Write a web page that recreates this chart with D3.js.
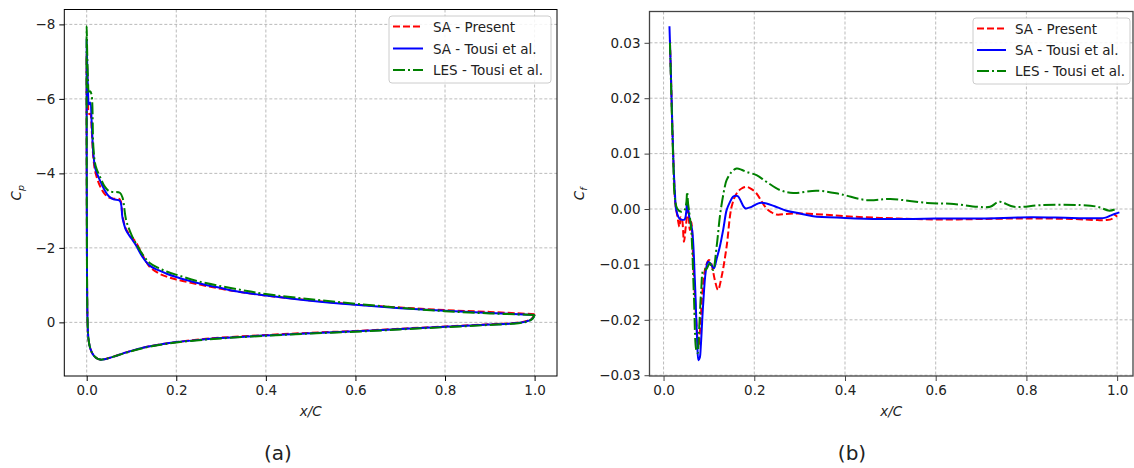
<!DOCTYPE html>
<html><head><meta charset="utf-8">
<script src="https://cdn.jsdelivr.net/npm/d3@7"></script>
<style>
body{margin:0;background:#fff;}
svg{display:block;}
text{font-family:"DejaVu Sans",sans-serif;fill:#222;}
</style>
</head><body>
<svg id="c" width="1134" height="468"></svg>
<script>
// ---------------- DATA ----------------
const seriesNames = ["SA - Present", "SA - Tousi et al.", "LES - Tousi et al."];
const xTicks = [0, 0.2, 0.4, 0.6, 0.8, 1.0];
const cpTicks = [-8, -6, -4, -2, 0];
const cfTicks = [-0.03, -0.02, -0.01, 0.0, 0.01, 0.02, 0.03];

// Cp, upper (suction) surface, trailing edge -> leading edge
const cpUpperX = [1.0, 0.9, 0.8, 0.7, 0.6, 0.5, 0.4, 0.35, 0.3, 0.25, 0.2, 0.18, 0.16, 0.14, 0.125, 0.11, 0.1, 0.088, 0.08, 0.074, 0.06, 0.05, 0.04, 0.03, 0.02, 0.015, 0.011, 0.008, 0.005, 0.003, 0.001, 0.0];
const cpUpperSAPresent = [-0.22, -0.28, -0.33, -0.40, -0.48, -0.59, -0.72, -0.80, -0.90, -1.02, -1.15, -1.22, -1.32, -1.50, -1.80, -2.15, -2.30, -2.50, -2.85, -3.30, -3.32, -3.35, -3.45, -3.65, -4.00, -4.40, -5.20, -5.60, -5.60, -6.00, -6.80, -7.20];
const cpUpperSATousi = [-0.20, -0.25, -0.31, -0.38, -0.47, -0.58, -0.72, -0.80, -0.92, -1.05, -1.22, -1.30, -1.40, -1.53, -1.75, -2.07, -2.25, -2.47, -2.80, -3.26, -3.30, -3.38, -3.55, -3.80, -4.10, -4.50, -5.40, -5.90, -5.85, -6.20, -7.00, -7.60];
const cpUpperLES = [-0.20, -0.24, -0.30, -0.39, -0.50, -0.62, -0.76, -0.86, -0.97, -1.10, -1.28, -1.36, -1.46, -1.60, -1.82, -2.12, -2.35, -2.75, -3.35, -3.48, -3.50, -3.52, -3.65, -3.90, -4.20, -4.70, -6.10, -6.20, -6.20, -6.50, -7.30, -7.95];

// Cp, lower (pressure) surface, leading edge -> trailing edge
const cpLowerX = [0.0005, 0.001, 0.002, 0.004, 0.008, 0.015, 0.022, 0.03, 0.04, 0.06, 0.09, 0.13, 0.17, 0.2, 0.25, 0.3, 0.4, 0.5, 0.6, 0.7, 0.8, 0.9, 0.95, 0.98, 0.995, 1.0];
const cpLowerSAPresent = [-2.0, -0.8, 0.0, 0.45, 0.70, 0.88, 0.96, 1.00, 0.99, 0.92, 0.80, 0.67, 0.58, 0.53, 0.46, 0.41, 0.34, 0.28, 0.23, 0.17, 0.11, 0.05, 0.02, -0.03, -0.12, -0.22];
const cpLowerSATousi = [-2.0, -0.8, 0.0, 0.45, 0.70, 0.88, 0.96, 1.00, 0.99, 0.92, 0.80, 0.67, 0.58, 0.53, 0.47, 0.42, 0.35, 0.29, 0.24, 0.18, 0.12, 0.06, 0.03, -0.02, -0.10, -0.20];
const cpLowerLES = [-2.0, -0.8, 0.0, 0.45, 0.70, 0.88, 0.96, 1.00, 0.99, 0.92, 0.81, 0.68, 0.59, 0.54, 0.48, 0.43, 0.36, 0.30, 0.25, 0.19, 0.13, 0.07, 0.04, -0.01, -0.09, -0.20];

// Cf
const cfXSAPresent = [0.014, 0.017, 0.020, 0.023, 0.026, 0.030, 0.035, 0.038, 0.041, 0.045, 0.049, 0.054, 0.058, 0.061, 0.066, 0.072, 0.077, 0.081, 0.086, 0.093, 0.1, 0.105, 0.113, 0.12, 0.128, 0.139, 0.15, 0.161, 0.172, 0.183, 0.194, 0.205, 0.216, 0.227, 0.238, 0.249, 0.27, 0.3, 0.35, 0.4, 0.478, 0.55, 0.625, 0.7, 0.8, 0.9, 0.957, 0.974, 0.988, 0.994, 1.0];
const cfSAPresent = [0.0305, 0.022, 0.013, 0.006, 0.001, -0.0011, -0.0032, -0.0015, -0.002, -0.0059, -0.0032, -0.0002, -0.0038, -0.0023, -0.0104, -0.020, -0.0249, -0.0212, -0.0146, -0.0104, -0.0092, -0.0098, -0.0128, -0.0146, -0.0122, -0.0068, 0.0004, 0.0028, 0.0037, 0.0040, 0.0036, 0.0028, 0.0014, 0.0001, -0.0006, -0.0010, -0.0009, -0.0008, -0.0010, -0.0013, -0.0016, -0.0018, -0.0019, -0.0018, -0.0017, -0.0018, -0.0020, -0.0020, -0.0018, -0.0011, -0.0014];

const cfXSATousi = [0.013, 0.016, 0.019, 0.022, 0.025, 0.028, 0.035, 0.046, 0.050, 0.052, 0.055, 0.058, 0.063, 0.069, 0.074, 0.077, 0.080, 0.082, 0.087, 0.093, 0.098, 0.104, 0.111, 0.117, 0.124, 0.132, 0.139, 0.146, 0.153, 0.158, 0.164, 0.170, 0.176, 0.181, 0.187, 0.194, 0.203, 0.212, 0.227, 0.245, 0.271, 0.301, 0.33, 0.4, 0.478, 0.55, 0.625, 0.7, 0.81, 0.9, 0.972, 0.985, 0.994, 1.005];
const cfSATousi = [0.033, 0.025, 0.016, 0.008, 0.003, -0.0002, -0.0017, -0.0019, -0.0005, 0.0016, -0.0005, -0.0020, -0.0038, -0.0128, -0.0236, -0.0273, -0.0268, -0.0249, -0.0176, -0.0113, -0.0095, -0.0099, -0.0107, -0.0090, -0.0068, -0.0035, -0.0002, 0.0012, 0.0022, 0.0024, 0.0023, 0.0015, 0.0005, 0.0001, 0.0002, 0.0004, 0.0008, 0.0011, 0.0010, 0.0005, -0.0003, -0.0008, -0.0013, -0.0016, -0.0018, -0.0018, -0.0017, -0.0017, -0.0015, -0.0016, -0.0016, -0.0012, -0.0009, -0.0006];

const cfXLES = [0.014, 0.017, 0.020, 0.022, 0.024, 0.030, 0.039, 0.046, 0.050, 0.052, 0.054, 0.056, 0.061, 0.067, 0.072, 0.075, 0.078, 0.083, 0.088, 0.094, 0.102, 0.109, 0.117, 0.125, 0.135, 0.139, 0.150, 0.161, 0.172, 0.183, 0.205, 0.227, 0.257, 0.286, 0.338, 0.389, 0.448, 0.5, 0.581, 0.64, 0.692, 0.72, 0.74, 0.773, 0.832, 0.92, 0.957, 0.983, 1.0];
const cfLES = [0.030, 0.021, 0.012, 0.007, 0.0028, 0.0001, -0.0005, -0.0002, 0.0010, 0.0031, 0.0010, -0.0002, -0.0038, -0.0158, -0.0254, -0.0260, -0.0224, -0.0146, -0.0110, -0.0109, -0.0098, -0.0110, -0.0068, -0.0008, 0.0040, 0.0052, 0.0067, 0.0073, 0.0071, 0.0067, 0.0061, 0.0049, 0.0034, 0.0029, 0.0033, 0.0027, 0.0016, 0.0018, 0.0011, 0.0009, 0.0004, 0.0004, 0.0013, 0.0004, 0.0007, 0.0007, 0.0004, -0.0003, 0.0001];

// ---------------- STYLE ----------------
const styles = [
  {color: "#ff0000", dash: "7,3"},
  {color: "#0000ff", dash: null},
  {color: "#008000", dash: "12,3,2,3"}
];

const svg = d3.select("#c");

function zip(xs, ys) { return xs.map((x, i) => [x, ys[i]]); }

function drawPanel(cfg) {
  const g = svg.append("g");
  const x = d3.scaleLinear().domain(cfg.xDomain).range([cfg.left, cfg.right]);
  const y = d3.scaleLinear().domain(cfg.yDomain).range([cfg.top, cfg.bottom]);
  const clipId = "clip" + cfg.id;
  svg.append("clipPath").attr("id", clipId).append("rect")
    .attr("x", cfg.left).attr("y", cfg.top)
    .attr("width", cfg.right - cfg.left).attr("height", cfg.bottom - cfg.top);

  // grid
  const grid = g.append("g").attr("stroke", "#aaaaaa").attr("stroke-width", 0.8)
    .attr("stroke-dasharray", "3,2");
  grid.selectAll(".gx").data(xTicks).join("line")
    .attr("x1", d => x(d)).attr("x2", d => x(d))
    .attr("y1", cfg.top).attr("y2", cfg.bottom);
  grid.selectAll(".gy").data(cfg.yTicks).join("line")
    .attr("y1", d => y(d)).attr("y2", d => y(d))
    .attr("x1", cfg.left).attr("x2", cfg.right);

  // lines
  const line = d3.line().x(d => x(d[0])).y(d => y(d[1]))
    .curve(d3.curveCatmullRom.alpha(0.5));
  const lg = g.append("g").attr("clip-path", `url(#${clipId})`);
  cfg.series.forEach((pts, i) => {
    lg.append("path").attr("d", line(pts)).attr("fill", "none")
      .attr("stroke", styles[i].color).attr("stroke-width", 2)
      .attr("stroke-dasharray", styles[i].dash)
      .attr("stroke-linejoin", "round");
  });

  // axes
  const xAxis = d3.axisBottom(x).tickValues(xTicks).tickFormat(d3.format(".1f"))
    .tickSizeInner(5).tickSizeOuter(0).tickPadding(4);
  const yAxis = d3.axisLeft(y).tickValues(cfg.yTicks).tickFormat(cfg.yFormat)
    .tickSizeInner(5).tickSizeOuter(0).tickPadding(4);
  const xa = g.append("g").attr("transform", `translate(0,${cfg.bottom})`).call(xAxis);
  const ya = g.append("g").attr("transform", `translate(${cfg.left},0)`).call(yAxis);
  [xa, ya].forEach(a => {
    a.select(".domain").remove();
    a.selectAll("line").attr("stroke", cfg.spine).attr("stroke-width", 1);
    a.selectAll("text").attr("font-size", 13.5).attr("fill", "#222")
      .attr("font-family", "DejaVu Sans");
  });

  // frame
  g.append("rect").attr("x", cfg.left).attr("y", cfg.top)
    .attr("width", cfg.right - cfg.left).attr("height", cfg.bottom - cfg.top)
    .attr("fill", "none").attr("stroke", cfg.spine).attr("stroke-width", cfg.spineW);

  // axis labels
  g.append("text").attr("x", (cfg.left + cfg.right) / 2).attr("y", cfg.bottom + 40)
    .attr("text-anchor", "middle").attr("font-size", 13.5).attr("font-style", "italic")
    .text("x/C");
  const yl = g.append("text")
    .attr("transform", `translate(${cfg.yLabelX},${(cfg.top + cfg.bottom) / 2}) rotate(-90)`)
    .attr("text-anchor", "middle").attr("font-size", 13.5).attr("font-style", "italic");
  yl.append("tspan").text("C");
  yl.append("tspan").attr("dy", 3).attr("font-size", 9.5).text(cfg.sub);

  // panel caption
  g.append("text").attr("x", cfg.capX).attr("y", 460)
    .attr("text-anchor", "middle").attr("font-size", 20)
    .attr("font-family", "Liberation Sans, Arial, sans-serif")
    .text(cfg.caption);

  // legend
  const L = cfg.legend;
  const lgd = g.append("g");
  lgd.append("rect").attr("x", L.x).attr("y", L.y).attr("width", L.w).attr("height", L.h)
    .attr("rx", 3).attr("fill", "white").attr("fill-opacity", 0.85)
    .attr("stroke", "#cccccc").attr("stroke-width", 1);
  seriesNames.forEach((name, i) => {
    const cy = L.rows[i];
    lgd.append("line").attr("x1", L.lx0).attr("x2", L.lx1).attr("y1", cy).attr("y2", cy)
      .attr("stroke", styles[i].color).attr("stroke-width", 2)
      .attr("stroke-dasharray", styles[i].dash);
    lgd.append("text").attr("x", L.tx).attr("y", cy + 5).attr("font-size", 13.5).text(name);
  });
}

drawPanel({
  id: "a", left: 64.3, right: 557, top: 9.5, bottom: 376,
  xDomain: [-0.05, 1.05], yDomain: [-8.40, 1.44],
  yTicks: cpTicks, yFormat: d3.format("d"),
  spine: "#000", spineW: 1, sub: "p", yLabelX: 21, capX: 278, caption: "(a)",
  series: [
    zip(cpUpperX.concat(cpLowerX), cpUpperSAPresent.concat(cpLowerSAPresent)),
    zip(cpUpperX.concat(cpLowerX), cpUpperSATousi.concat(cpLowerSATousi)),
    zip(cpUpperX.concat(cpLowerX), cpUpperLES.concat(cpLowerLES))
  ],
  legend: {x: 389, y: 16, w: 162, h: 67, rows: [26.5, 48.5, 70], lx0: 393, lx1: 423, tx: 433}
});

drawPanel({
  id: "b", left: 649.5, right: 1133, top: 11.5, bottom: 376,
  xDomain: [-0.031, 1.035], yDomain: [0.03565, -0.03014],
  yTicks: cfTicks, yFormat: d3.format(".2f"),
  spine: "#444", spineW: 1.3, sub: "f", yLabelX: 584, capX: 852, caption: "(b)",
  series: [
    zip(cfXSAPresent, cfSAPresent),
    zip(cfXSATousi, cfSATousi),
    zip(cfXLES, cfLES)
  ],
  legend: {x: 973, y: 18, w: 157, h: 66, rows: [28.5, 50, 71], lx0: 977, lx1: 1006, tx: 1015}
});
</script>
</body></html>
